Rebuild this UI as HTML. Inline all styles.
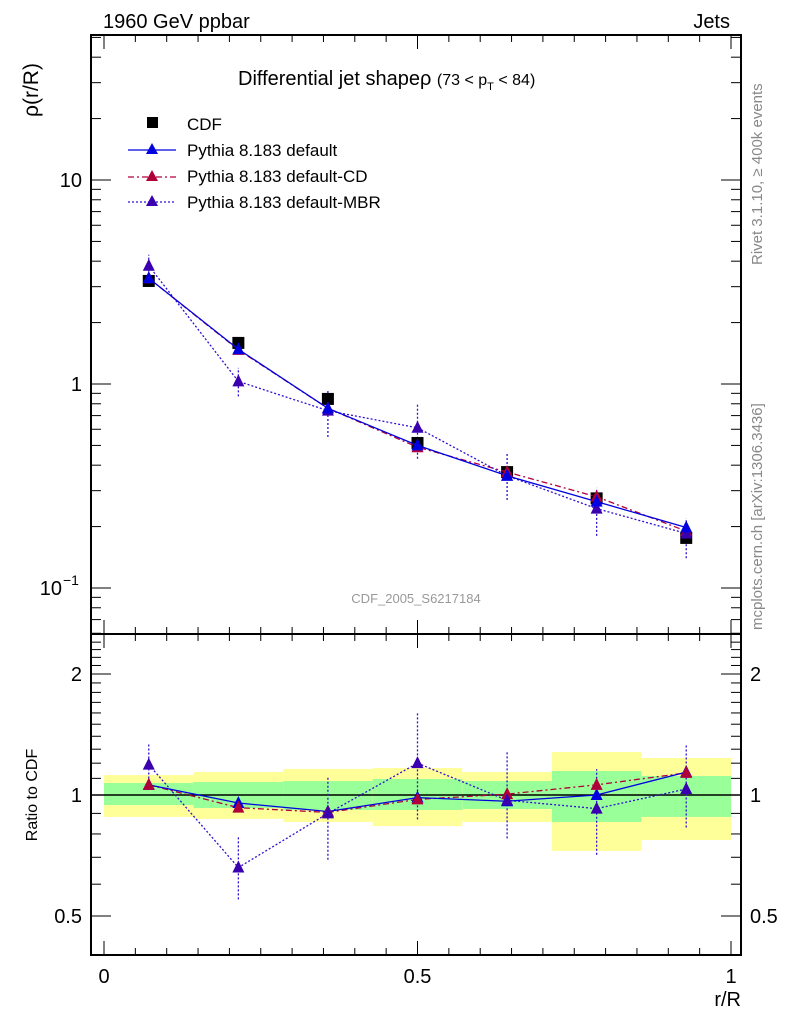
<!DOCTYPE html>
<html><head><meta charset="utf-8"><style>
body{margin:0;background:#fff;font-family:"Liberation Sans",sans-serif}
svg text{font-family:"Liberation Sans",sans-serif}
</style></head><body>
<svg id="c" width="786" height="1024" xmlns="http://www.w3.org/2000/svg">
<rect width="786" height="1024" fill="#fff"/>
<g id="bands"></g>
<g id="axes"></g>
<g id="series"></g>
<text x="103" y="28" font-size="20">1960 GeV ppbar</text>
<text x="730" y="28" font-size="20" text-anchor="end">Jets</text>
<text x="238" y="85" font-size="20">Differential jet shapeρ <tspan font-size="16">(73 &lt; p</tspan><tspan font-size="11" dy="5">T</tspan><tspan font-size="16" dy="-5"> &lt; 84)</tspan></text>
<text x="416" y="603" font-size="13" fill="#999" text-anchor="middle">CDF_2005_S6217184</text>
<text transform="translate(38,90) rotate(-90)" font-size="21" text-anchor="middle">ρ(r/R)</text>
<text transform="translate(37,795) rotate(-90)" font-size="16" text-anchor="middle">Ratio to CDF</text>
<text x="741" y="1006" font-size="20" text-anchor="end">r/R</text>
<text transform="translate(762,265) rotate(-90)" font-size="15" fill="#888">Rivet 3.1.10, ≥ 400k events</text>
<text transform="translate(762,630) rotate(-90)" font-size="15" fill="#888">mcplots.cern.ch [arXiv:1306.3436]</text>
<g>
<rect x="147" y="117" width="11" height="11" fill="#000"/>
<text x="187" y="130" font-size="17">CDF</text>
<line x1="128" y1="150" x2="176" y2="150" stroke="#0000e0" stroke-width="1.3"/>
<polygon points="152,143 146,154 158,154" fill="#0000e0"/>
<text x="187" y="156" font-size="17">Pythia 8.183 default</text>
<line x1="128" y1="177" x2="176" y2="177" stroke="#b0003a" stroke-width="1.3" stroke-dasharray="6,3,2,3"/>
<polygon points="152,170 146,181 158,181" fill="#b0003a"/>
<text x="187" y="182" font-size="17">Pythia 8.183 default-CD</text>
<line x1="128" y1="202" x2="176" y2="202" stroke="#3010d0" stroke-width="1.3" stroke-dasharray="2,2"/>
<polygon points="152,195 146,206 158,206" fill="#3a00b0"/>
<text x="187" y="208" font-size="17">Pythia 8.183 default-MBR</text>
</g>
</svg>
<script>
const xs=[0.0714,0.2143,0.3571,0.5,0.6429,0.7857,0.9286];
const binEdges=[0,0.1429,0.2857,0.4286,0.5714,0.7143,0.8571,1];
const cdf=[3.2,1.59,0.845,0.514,0.37,0.275,0.176];
const pyDef=[3.3,1.48,0.76,0.50,0.355,0.265,0.198];
const pyCD=[3.3,1.47,0.76,0.49,0.37,0.28,0.19];
const pyMBR=[3.8,1.03,0.74,0.61,0.355,0.245,0.185];
const mbrLo=[3.4,0.87,0.55,0.43,0.27,0.18,0.14];
const mbrHi=[4.3,1.2,0.93,0.8,0.46,0.31,0.22];
const rDef=[1.06,0.955,0.91,0.985,0.965,1.0,1.14];
const rCD=[1.06,0.93,0.905,0.975,1.005,1.06,1.135];
const rMBR=[1.19,0.66,0.9,1.2,0.97,0.925,1.035];
const rMbrLo=[1.05,0.55,0.69,0.87,0.78,0.71,0.83];
const rMbrHi=[1.35,0.79,1.11,1.6,1.28,1.16,1.33];
const yelLo=[0.882,0.872,0.857,0.837,0.857,0.726,0.773];
const yelHi=[1.121,1.141,1.161,1.167,1.141,1.279,1.236];
const grnLo=[0.944,0.928,0.918,0.918,0.923,0.857,0.882];
const grnHi=[1.071,1.077,1.083,1.096,1.083,1.147,1.115];
const yTicks=[0.1,1,10];const yTickLabels=["10","1","10"];
const rTicks=[0.5,1,2];const rTickLabels=["0.5","1","2"];
const xTicks=[0,0.5,1];const xTickLabels=["0","0.5","1"];

const NS="http://www.w3.org/2000/svg";
const L=91,R=741,T=35,MB=634,RB=955;
const X=v=>104+v*627;
const Y=v=>384-Math.log10(v)*204;
const YR=v=>795-Math.log10(v)*402;
function mk(p,tag,a){const e=document.createElementNS(NS,tag);for(const k in a)e.setAttribute(k,a[k]);(typeof p==='string'?document.getElementById(p):p).appendChild(e);return e;}
for(let i=0;i<7;i++){
 let e=mk('bands','rect',{x:X(binEdges[i]),y:YR(yelHi[i]),width:X(binEdges[i+1])-X(binEdges[i]),height:YR(yelLo[i])-YR(yelHi[i]),fill:'#ffff99'});
 
 
 e=mk('bands','rect',{x:X(binEdges[i]),y:YR(grnHi[i]),width:X(binEdges[i+1])-X(binEdges[i]),height:YR(grnLo[i])-YR(grnHi[i]),fill:'#99ff99'});
 
 
}
let f=mk('axes','rect',{x:L,y:T,width:R-L,height:MB-T,fill:'none',stroke:'#000','stroke-width':2});


f=mk('axes','rect',{x:L,y:MB,width:R-L,height:RB-MB,fill:'none',stroke:'#000','stroke-width':2});


mk('axes','line',{x1:L,x2:R,y1:YR(1),y2:YR(1),stroke:'#000','stroke-width':1.5});
for(let k=0;k<=20;k++){const v=k*0.05;const big=(k%10==0);const len=big?14:7;
 [T,MB].forEach(y0=>mk('axes','line',{x1:X(v),x2:X(v),y1:y0,y2:y0+len,stroke:'#000'}));
 [MB,RB].forEach(y0=>mk('axes','line',{x1:X(v),x2:X(v),y1:y0,y2:y0-len,stroke:'#000'}));}
xTicks.forEach((v,i)=>{const t=mk('axes','text',{x:X(v),y:983,'font-size':20,'text-anchor':'middle'});t.textContent=xTickLabels[i];
 
 });
for(let d=-2;d<=1;d++)for(let m=1;m<=9;m++){const v=m*Math.pow(10,d);const y=Y(v);if(y<T||y>MB)continue;const len=m==1?20:10;
 mk('axes','line',{x1:L,x2:L+len,y1:y,y2:y,stroke:'#000'});mk('axes','line',{x1:R,x2:R-len,y1:y,y2:y,stroke:'#000'});}
yTicks.forEach((v,i)=>{const sup=(v==0.1);const t=mk('axes','text',{x:sup?62:82,y:Y(v)+7,'font-size':20,'text-anchor':'end'});t.textContent=yTickLabels[i];
 if(sup){const s=mk('axes','text',{x:63,y:Y(v)-3,'font-size':14});s.textContent='−1';
 
 }
 
 });
for(let v=0.4;v<=2.5;v+=0.1){const vv=Math.round(v*10)/10;const y=YR(vv);if(y<MB||y>RB)continue;const big=(vv==0.5||vv==1||vv==2);const len=big?20:10;
 mk('axes','line',{x1:L,x2:L+len,y1:y,y2:y,stroke:'#000'});mk('axes','line',{x1:R,x2:R-len,y1:y,y2:y,stroke:'#000'});}
rTicks.forEach((v,i)=>{[82,750].forEach(x=>{const t=mk('axes','text',{x:x,y:YR(v)+7,'font-size':20,'text-anchor':x<100?'end':'start'});t.textContent=rTickLabels[i];
 
 });});
function line(vals,fy,col,dash,name){const pts=xs.map((x,i)=>X(x)+','+fy(vals[i])).join(' ');
 const e=mk('series','polyline',{points:pts,fill:'none',stroke:col,'stroke-width':1.3,'stroke-dasharray':dash});
 
 }
function tris(vals,fy,col,name){vals.forEach((v,i)=>{const x=X(xs[i]),y=fy(v);
 const e=mk('series','polygon',{points:`${x},${y-7} ${x-6},${y+5} ${x+6},${y+5}`,fill:col});
 
 });}
function errs(lo,hi,fy,name){lo.forEach((v,i)=>{const e=mk('series','line',{x1:X(xs[i]),x2:X(xs[i]),y1:fy(v),y2:fy(hi[i]),stroke:'#3010d0','stroke-dasharray':'2,2','stroke-width':1.3});
 
 });}
errs(mbrLo,mbrHi,Y,'mbr-error-bar');
errs(rMbrLo,rMbrHi,YR,'mbr-ratio-error-bar');
cdf.forEach((v,i)=>{const e=mk('series','rect',{x:X(xs[i])-6,y:Y(v)-6,width:12,height:12,fill:'#000'});
 
 });
line(pyCD,Y,'#b0003a','6,3,2,3','cd-line');
line(pyMBR,Y,'#3010d0','2,2','mbr-line');
line(pyDef,Y,'#0000e0','','default-line');
tris(pyCD,Y,'#b0003a','cd-point');tris(pyMBR,Y,'#3a00b0','mbr-point');tris(pyDef,Y,'#0000e0','default-point');
line(rCD,YR,'#b0003a','6,3,2,3','cd-ratio-line');
line(rMBR,YR,'#3010d0','2,2','mbr-ratio-line');
line(rDef,YR,'#0000e0','','default-ratio-line');
tris(rDef,YR,'#0000e0','default-ratio-point');tris(rCD,YR,'#b0003a','cd-ratio-point');tris(rMBR,YR,'#3a00b0','mbr-ratio-point');
</script>
</body></html>
